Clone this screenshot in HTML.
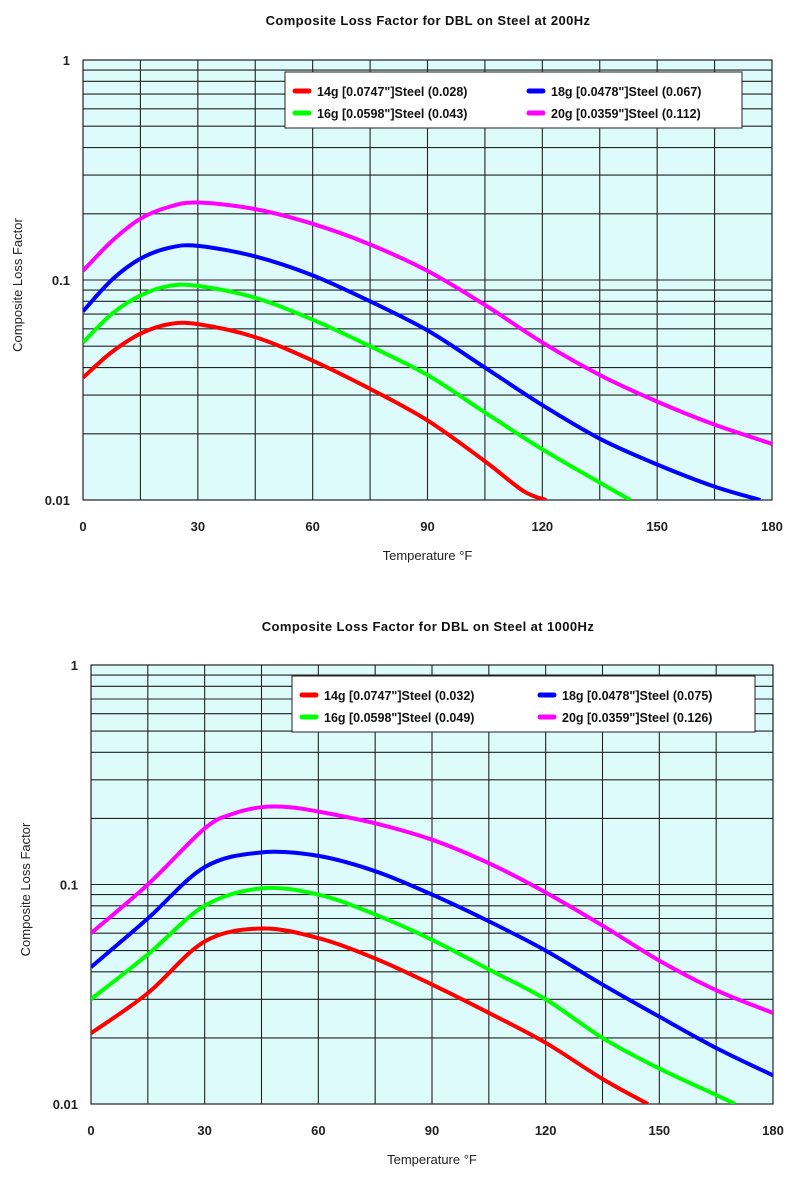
<!DOCTYPE html>
<html><head><meta charset="utf-8"><style>
body{margin:0;background:#fff;}
svg{display:block;font-family:"Liberation Sans",Arial,sans-serif;}
</style></head><body>
<svg id="c" width="800" height="1195"></svg>
<script>
const temps1R=[0,7.5,15,22.5,30,45,60,75,90,105,115,121];
const red1=[0.036,0.047,0.057,0.063,0.063,0.055,0.043,0.032,0.023,0.015,0.011,0.01];
const temps1G=[0,7.5,15,22.5,30,45,60,75,90,105,120,135,143];
const green1=[0.052,0.07,0.085,0.094,0.094,0.083,0.066,0.05,0.037,0.025,0.017,0.012,0.01];
const temps1B=[0,7.5,15,22.5,30,45,60,75,90,105,120,135,150,165,177];
const blue1=[0.072,0.1,0.125,0.14,0.143,0.128,0.105,0.08,0.059,0.04,0.027,0.019,0.0145,0.0115,0.01];
const temps1M=[0,7.5,15,22.5,30,45,60,75,90,105,120,135,150,165,180];
const magenta1=[0.11,0.15,0.19,0.215,0.225,0.21,0.18,0.145,0.11,0.077,0.052,0.037,0.028,0.022,0.018];
const temps2R=[0,15,30,45,60,75,90,105,120,135,147];
const red2=[0.021,0.032,0.055,0.063,0.057,0.046,0.035,0.026,0.019,0.013,0.01];
const temps2G=[0,15,30,45,60,75,90,105,120,135,150,165,170];
const green2=[0.03,0.048,0.08,0.096,0.09,0.073,0.056,0.041,0.03,0.02,0.0145,0.011,0.01];
const temps2B=[0,15,30,45,60,75,90,105,120,135,150,165,180];
const blue2=[0.042,0.07,0.12,0.14,0.135,0.115,0.09,0.068,0.05,0.035,0.025,0.018,0.0135];
const temps2M=[0,15,30,37.5,45,52.5,60,75,90,105,120,135,150,165,180];
const magenta2=[0.06,0.1,0.18,0.21,0.225,0.225,0.215,0.19,0.16,0.125,0.092,0.065,0.045,0.033,0.026];
const xTicks=[0,30,60,90,120,150,180];
const yTicks=[1,0.1,0.01];
const legend1=["14g [0.0747\"]Steel (0.028)","18g [0.0478\"]Steel (0.067)","16g [0.0598\"]Steel (0.043)","20g [0.0359\"]Steel (0.112)"];
const legend2=["14g [0.0747\"]Steel (0.032)","18g [0.0478\"]Steel (0.075)","16g [0.0598\"]Steel (0.049)","20g [0.0359\"]Steel (0.126)"];
const colors=["#ff0000","#0000ff","#00ff00","#ff00ff"];
const NS="http://www.w3.org/2000/svg";
const svg=document.getElementById('c');
function el(t,a,p){const e=document.createElementNS(NS,t);for(const k in a)e.setAttribute(k,a[k]);(p||svg).appendChild(e);return e;}
function chart(o){
  const g=el('g',{});
  
  
  const X=t=>o.L+(t/180)*(o.R-o.L);
  const Y=v=>o.T+(-Math.log10(v)/2)*(o.B-o.T);
  const bg=el('rect',{x:o.L,y:o.T,width:o.R-o.L,height:o.B-o.T,fill:'#ddfbfb'},g);
  
  for(let d of [0.01,0.1])for(let m=1;m<=9;m++){const v=d*m;if(v>=1)continue;
    const l=el('line',{x1:o.L,x2:o.R,y1:Y(v),y2:Y(v),stroke:'#222','stroke-width':1.1},g);
    }
  for(let t=15;t<180;t+=15){const l=el('line',{x1:X(t),x2:X(t),y1:o.T,y2:o.B,stroke:'#222','stroke-width':1.1},g);
    }
  const fr=el('rect',{x:o.L,y:o.T,width:o.R-o.L,height:o.B-o.T,fill:'none',stroke:'#222','stroke-width':1.2},g);
  
  const cid='clip'+o.name;const cp=el('clipPath',{id:cid},g);el('rect',{x:o.L,y:o.T,width:o.R-o.L,height:o.B-o.T},cp);
  o.series.forEach((s,i)=>{
    const pts=s.t.map((t,j)=>[X(t),Y(s.v[j])]);
    let d='M'+pts[0][0]+','+pts[0][1];
    for(let j=0;j<pts.length-1;j++){const p0=pts[j-1]||pts[j],p1=pts[j],p2=pts[j+1],p3=pts[j+2]||p2;
      d+=` C${p1[0]+(p2[0]-p0[0])/6},${p1[1]+(p2[1]-p0[1])/6} ${p2[0]-(p3[0]-p1[0])/6},${p2[1]-(p3[1]-p1[1])/6} ${p2[0]},${p2[1]}`;}
    const p=el('path',{d:d,fill:'none',stroke:s.c,'stroke-width':4,'clip-path':`url(#${cid})`},g);
    
  });
  xTicks.forEach(t=>{const e=el('text',{x:X(t),y:o.B+31,'text-anchor':'middle','font-size':13,'font-weight':'bold',fill:'#222'},g);e.textContent=t;
    });
  yTicks.forEach(v=>{const e=el('text',{x:o.L-13,y:Y(v)+5,'text-anchor':'end','font-size':13,'font-weight':'bold',fill:'#222'},g);e.textContent=v;
    });
  const ti=el('text',{x:428,y:o.titleY,'text-anchor':'middle','font-size':13,'font-weight':'bold','letter-spacing':'0.4',fill:'#111'},g);ti.textContent=o.title;
  
  const xt=el('text',{x:(o.L+o.R)/2,y:o.B+60,'text-anchor':'middle','font-size':13,fill:'#222'},g);xt.textContent='Temperature °F';
  
  const yt=el('text',{x:0,y:0,'text-anchor':'middle','font-size':13,fill:'#222',transform:`translate(${o.yx},${(o.T+o.B)/2+5}) rotate(-90)`},g);yt.textContent='Composite Loss Factor';
  
  const lg=el('g',{},g);
  el('rect',{x:o.lx,y:o.ly,width:o.lw,height:56,fill:'#fff',stroke:'#222','stroke-width':1},lg);
  [0,1,2,3].forEach(i=>{const col=i%2,row=Math.floor(i/2);const bx=o.lx+10+col*o.lc,by=o.ly+19+row*22;
    const m=el('line',{x1:bx,x2:bx+14,y1:by,y2:by,stroke:colors[i],'stroke-width':5,'stroke-linecap':'round'},lg);
    
    const t=el('text',{x:bx+22,y:by+5,'font-size':12.5,'font-weight':'bold',fill:'#111'},lg);t.textContent=o.legend[i];
    });
}
chart({name:'chart-200hz',L:83,R:772,T:60,B:500,titleY:25,yx:22,lx:285,ly:72,lw:457,lc:234,legend:legend1,title:'Composite Loss Factor for DBL on Steel at 200Hz',
 series:[{t:temps1R,v:red1,c:colors[0],n:'line-14g'},{t:temps1G,v:green1,c:colors[2],n:'line-16g'},{t:temps1B,v:blue1,c:colors[1],n:'line-18g'},{t:temps1M,v:magenta1,c:colors[3],n:'line-20g'}]});
chart({name:'chart-1000hz',L:91,R:773,T:665,B:1104,titleY:631,yx:30,lx:292,ly:676,lw:463,lc:238,legend:legend2,title:'Composite Loss Factor for DBL on Steel at 1000Hz',
 series:[{t:temps2R,v:red2,c:colors[0],n:'line-14g'},{t:temps2G,v:green2,c:colors[2],n:'line-16g'},{t:temps2B,v:blue2,c:colors[1],n:'line-18g'},{t:temps2M,v:magenta2,c:colors[3],n:'line-20g'}]});
</script>
</body></html>
